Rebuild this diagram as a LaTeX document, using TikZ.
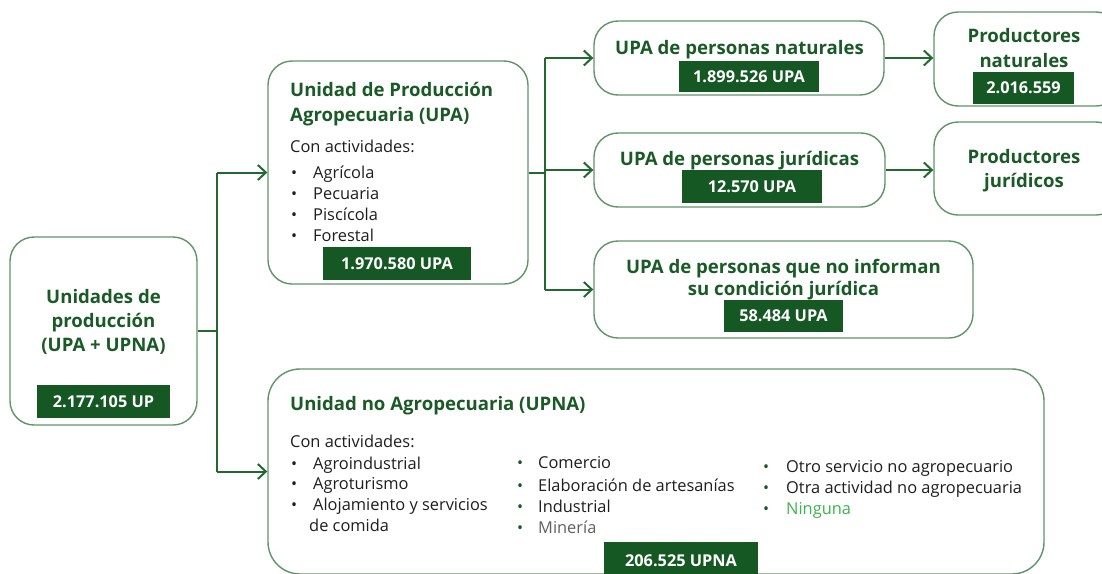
\documentclass[tikz,border=0pt]{standalone}
\usepackage{fontspec}
\setmainfont{Open Sans}
\usetikzlibrary{arrows.meta,fit}
\definecolor{dg}{RGB}{22,88,36}
\definecolor{ttl}{RGB}{26,90,38}
\definecolor{bord}{RGB}{96,148,104}
\definecolor{lnk}{RGB}{34,104,48}
\definecolor{txt}{RGB}{30,30,30}
\definecolor{lg}{RGB}{60,180,75}
\definecolor{gr}{RGB}{96,96,96}
\tikzset{
  rbox/.style={draw=bord, line width=1.4pt, rounded corners=24pt, inner sep=0pt, fill=white},
  num/.style={fill=dg, text=white, font=\fontsize{16.3}{19}\selectfont\bfseries, inner sep=0pt},
  ttlf/.style={text=ttl, font=\fontsize{18.6}{22}\selectfont\bfseries, inner sep=0pt},
  bodyf/.style={text=txt, font=\fontsize{16.4}{19}\selectfont, inner sep=0pt, anchor=base west},
  bul/.style={text=txt, font=\fontsize{16}{19}\selectfont, inner sep=0pt, anchor=base west},
  conn/.style={draw=lnk, line width=2pt},
  arr/.style={conn, -{Straight Barb[length=8pt,width=15pt,line width=2pt]}},
}
\begin{document}
\begin{tikzpicture}[x=1pt,y=-1pt]
\useasboundingbox (0,0) rectangle (1102,573);
\clip (0,0) rectangle (1102,573);
% boxes
\node[rbox, fit={(10,237) (197,425)}] (up) {};
\node[rbox, fit={(268,61) (528,284)}] (upa) {};
\node[rbox, fit={(594,21) (884,95)}] (nat) {};
\node[rbox, fit={(594,133) (885,207)}] (jur) {};
\node[rbox, fit={(594,241) (973,338)}] (noinf) {};
\node[rbox, fit={(934,12) (1120,106)}] (pnat) {};
\node[rbox, fit={(934,122) (1120,215)}] (pjur) {};
\node[rbox, rounded corners=32pt, fit={(268,369) (1044,574)}] (upna) {};
% junctions
\coordinate (j1) at (217,0);
\coordinate (j2) at (545,0);
\draw[conn] (up.east) -- (up.east -| j1);
\draw[conn] (upa.west -| j1) -- (upna.west -| j1);
\draw[arr] (upa.west -| j1) -- (upa.west);
\draw[arr] (upna.west -| j1) -- (upna.west);
\draw[conn] (upa.east) -- (upa.east -| j2);
\draw[conn] (nat.west -| j2) -- (noinf.west -| j2);
\draw[arr] (nat.west -| j2) -- (nat.west);
\draw[arr] (jur.west -| j2) -- (jur.west);
\draw[arr] (noinf.west -| j2) -- (noinf.west);
\draw[arr] (nat.east) -- (nat.east -| pnat.west);
\draw[arr] (jur.east) -- (jur.east -| pjur.west);
% left box text
\node[ttlf, anchor=base] (t1) at (103.5,303) {Unidades de};
\node[ttlf, anchor=base] (t2) at (103.5,327) {producción};
\node[ttlf, anchor=base] (t3) at (103.5,351) {(UPA + UPNA)};
\node[num, minimum width=133pt, minimum height=33pt] (n1) at (103.5,401.5) {2.177.105 UP};
% UPA box
\node[ttlf, anchor=base west] (u1) at (290,96) {Unidad de Producción};
\node[ttlf, anchor=base west] (u2) at (290,121) {Agropecuaria (UPA)};
\node[bodyf] (u3) at (290,152) {Con actividades:};
\foreach \y/\t [count=\i] in {178/Agrícola,199/Pecuaria,220/Piscícola,241/Forestal}{
  \node[bul] (ub\i) at (291,\y) {•};
  \node[bodyf] (ui\i) at (313,\y) {\t};
}
\node[num, minimum width=148pt, minimum height=33pt] (n2) at (397,263.5) {1.970.580 UPA};
% UPA naturales
\node[ttlf, anchor=base] (a1) at (739.5,54) {UPA de personas naturales};
\node[num, minimum width=140pt, minimum height=31pt] (n3) at (749,76.5) {1.899.526 UPA};
% juridicas
\node[ttlf, anchor=base] (b1) at (739.5,165) {UPA de personas jurídicas};
\node[num, minimum width=140pt, minimum height=33pt] (n4) at (752,186.5) {12.570 UPA};
% no informan
\node[ttlf, anchor=base] (c1) at (783.5,273) {UPA de personas que no informan};
\node[ttlf, anchor=base] (c2) at (783.5,295) {su condición jurídica};
\node[num, minimum width=119pt, minimum height=32pt] (n5) at (783.5,316) {58.484 UPA};
% productores
\node[ttlf, anchor=base] (p1) at (1024,42) {Productores};
\node[ttlf, anchor=base] (p2) at (1024,67) {naturales};
\node[num, minimum width=101pt, minimum height=32pt] (n6) at (1023.5,88) {2.016.559};
\node[ttlf, anchor=base] (q1) at (1024,163) {Productores};
\node[ttlf, anchor=base] (q2) at (1024,187) {jurídicos};
% UPNA
\node[ttlf, anchor=base west] (v1) at (290,410) {Unidad no Agropecuaria (UPNA)};
\node[bodyf] (v2) at (290,447) {Con actividades:};
\foreach \y/\t [count=\i] in {469/Agroindustrial,489.5/Agroturismo,510/Alojamiento y servicios}{
  \node[bul] (vb\i) at (291,\y) {•};
  \node[bodyf] (vi\i) at (313,\y) {\t};
}
\node[bodyf] (vi4) at (309,531) {de comida};
\foreach \y/\t [count=\i] in {468/Comercio,491/Elaboración de artesanías,512/Industrial}{
  \node[bul, text=dg] (wb\i) at (517,\y) {•};
  \node[bodyf] (wi\i) at (538,\y) {\t};
}
\node[bul, text=dg] (wb4) at (517,533) {•};
\node[bodyf, text=gr] (wi4) at (538,533) {Minería};
\foreach \y/\t [count=\i] in {472/Otro servicio no agropecuario,493/Otra actividad no agropecuaria}{
  \node[bul, text=dg] (xb\i) at (763,\y) {•};
  \node[bodyf] (xi\i) at (786,\y) {\t};
}
\node[bul, text=dg] (xb3) at (763,514) {•};
\node[bodyf, text=lg] (xi3) at (786,514) {Ninguna};
\node[num, minimum width=154pt, minimum height=38pt] (n7) at (681,561) {206.525 UPNA};
\end{tikzpicture}
\end{document}
